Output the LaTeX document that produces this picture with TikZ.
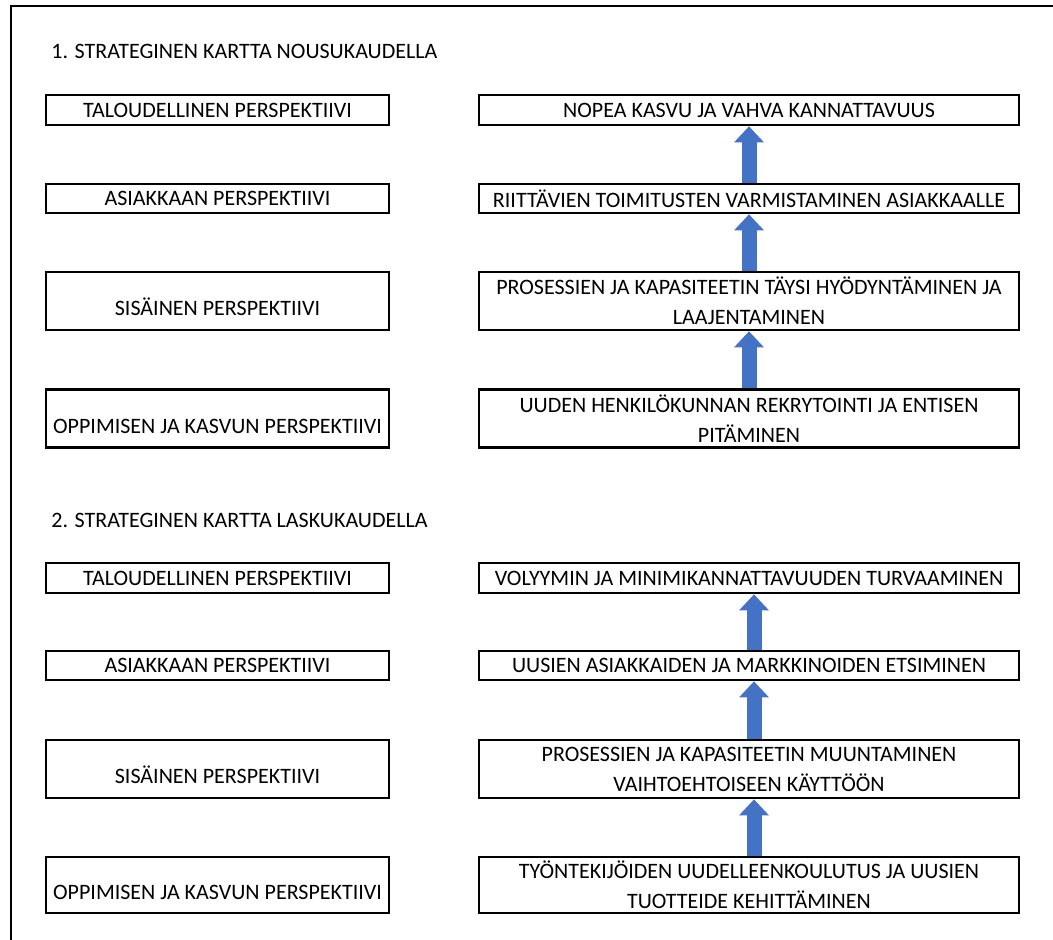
\documentclass[tikz,border=0pt]{standalone}
\usepackage{fontspec}
\setmainfont{Carlito}
\usetikzlibrary{arrows.meta}
\definecolor{arrowblue}{HTML}{4472C4}

\begin{document}
\begin{tikzpicture}[x=0.5pt,y=-0.5pt,
		every node/.style={font=\fontsize{11}{15}\selectfont},
		persp/.style={draw,line width=1.4pt,inner sep=0pt,minimum width=171.5pt,align=center},
		goal/.style={draw,line width=1.4pt,inner sep=0pt,minimum width=270pt,align=center},
		upward/.style={arrowblue,line width=7.5pt,-{Triangle[length=8pt,width=15pt,line width=0pt]}}]
	\useasboundingbox (0,0) rectangle (1053,940);
	\draw[line width=1pt] (11,940)--(11,6)--(1053,6);

	% nousukausi
	\node[anchor=west,inner sep=0pt] at (51,51)(title1){1. STRATEGINEN KARTTA NOUSUKAUDELLA};
	\node[persp,minimum height=15pt] at (217.5,110)(p1){TALOUDELLINEN PERSPEKTIIVI};
	\node[persp,minimum height=14.5pt] at (217.5,198.5)(p2){ASIAKKAAN PERSPEKTIIVI};
	\node[persp,minimum height=29pt] at (217.5,301)(p3){\mbox{}\\SISÄINEN PERSPEKTIIVI};
	\node[persp,minimum height=29pt] at (217.5,418.5)(p4){\mbox{}\\OPPIMISEN JA KASVUN PERSPEKTIIVI};
	\node[goal,minimum height=15pt] at (749,110)(n1){NOPEA KASVU JA VAHVA KANNATTAVUUS};
	\node[goal,minimum height=14.5pt] at (749,198.5)(n2){RIITTÄVIEN TOIMITUSTEN VARMISTAMINEN ASIAKKAALLE};
	\node[goal,minimum height=29pt] at (749,301)(n3){PROSESSIEN JA KAPASITEETIN TÄYSI HYÖDYNTÄMINEN JA\\LAAJENTAMINEN};
	\node[goal,minimum height=29pt] at (749,418.5)(n4){UUDEN HENKILÖKUNNAN REKRYTOINTI JA ENTISEN\\PITÄMINEN};
	\path[upward]
		(n4.north) edge (n3.south)
		(n3.north) edge (n2.south)
		(n2.north) edge (n1.south);

	% laskukausi
	\node[anchor=west,inner sep=0pt] at (51,520)(title2){2. STRATEGINEN KARTTA LASKUKAUDELLA};
	\node[persp,minimum height=15pt] at (217.5,578)(q1){TALOUDELLINEN PERSPEKTIIVI};
	\node[persp,minimum height=14.5pt] at (217.5,665.5)(q2){ASIAKKAAN PERSPEKTIIVI};
	\node[persp,minimum height=29pt] at (217.5,769)(q3){\mbox{}\\SISÄINEN PERSPEKTIIVI};
	\node[persp,minimum height=28pt] at (217.5,885)(q4){\mbox{}\\OPPIMISEN JA KASVUN PERSPEKTIIVI};
	\node[goal,minimum height=15pt] at (749,578)(l1){VOLYYMIN JA MINIMIKANNATTAVUUDEN TURVAAMINEN};
	\node[goal,minimum height=14.5pt] at (749,665.5)(l2){UUSIEN ASIAKKAIDEN JA MARKKINOIDEN ETSIMINEN};
	\node[goal,minimum height=29pt] at (749,769)(l3){PROSESSIEN JA KAPASITEETIN MUUNTAMINEN\\VAIHTOEHTOISEEN KÄYTTÖÖN};
	\node[goal,minimum height=28pt] at (749,885)(l4){TYÖNTEKIJÖIDEN UUDELLEENKOULUTUS JA UUSIEN\\TUOTTEIDE KEHITTÄMINEN};
	\path[upward]
		([xshift=2.5pt]l4.north) edge ([xshift=2.5pt]l3.south)
		([xshift=2.5pt]l3.north) edge ([xshift=2.5pt]l2.south)
		([xshift=2.5pt]l2.north) edge ([xshift=2.5pt]l1.south);
\end{tikzpicture}
\end{document}
